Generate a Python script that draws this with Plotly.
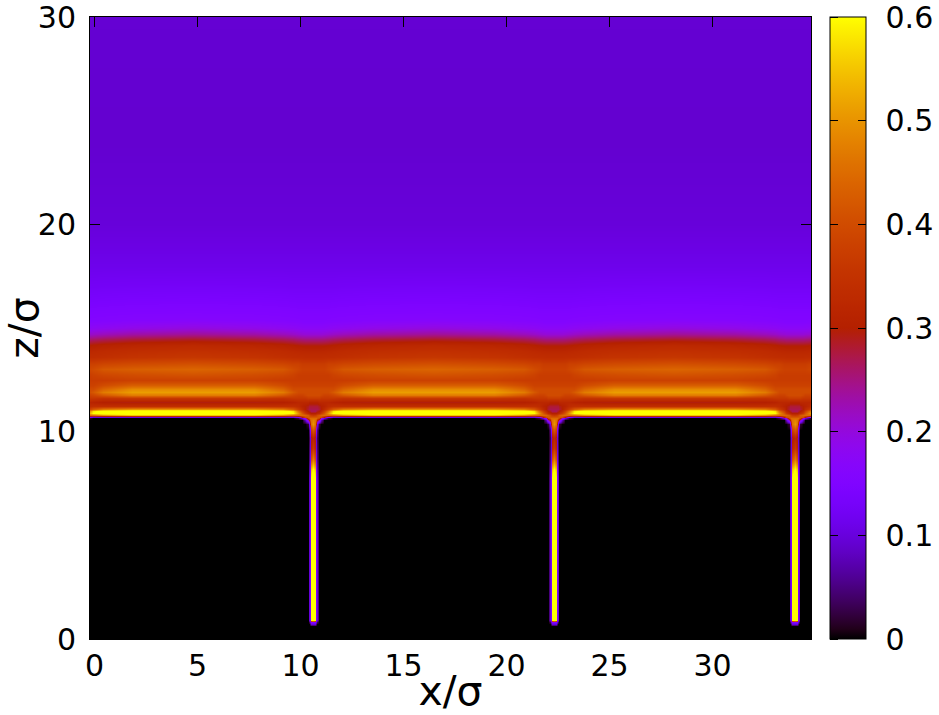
import math
import plotly.graph_objects as go

x_ticks = [0, 5, 10, 15, 20, 25, 30]
z_ticks = [0, 10, 20, 30]
cbar_ticks = [0, 0.1, 0.2, 0.3, 0.4, 0.5, 0.6]
cbar_labels = ["0", "0.1", "0.2", "0.3", "0.4", "0.5", "0.6"]

channel_centers = [-1.06, 10.62, 22.30, 33.98]
# distance from a channel axis (in sigma) at which each table column was read
column_offsets = [0, 0.10, 0.15, 0.20, 0.27, 0.39, 0.53, 0.73, 0.97, 1.45, 2.90, 5.84]

z_levels = [
    0, 0.62, 0.72, 0.80, 0.90, 7.6, 8.2, 8.65, 9.2, 9.7, 10.1, 10.35, 10.55, 10.66, 10.73,
    10.80, 10.90, 11.00, 11.09, 11.22, 11.44, 11.62, 11.78, 11.92, 12.08, 12.25, 12.5,
    12.75, 13.0, 13.25, 13.6, 13.9, 14.2, 14.45, 14.7, 15.0, 15.4, 15.8, 16.2, 17.0, 18.0,
    20.0, 24.0, 30.0,
]

density_table = [
    [0, 0, 0, 0, 0, 0, 0, 0, 0, 0, 0, 0],
    [0, 0, 0, 0, 0, 0, 0, 0, 0, 0, 0, 0],
    [.10, .10, .04, 0, 0, 0, 0, 0, 0, 0, 0, 0],
    [.16, .15, .10, .03, 0, 0, 0, 0, 0, 0, 0, 0],
    [.70, .62, .14, .10, 0, 0, 0, 0, 0, 0, 0, 0],
    [.70, .62, .14, .09, 0, 0, 0, 0, 0, 0, 0, 0],
    [.60, .55, .14, .07, 0, 0, 0, 0, 0, 0, 0, 0],
    [.48, .42, .12, .05, 0, 0, 0, 0, 0, 0, 0, 0],
    [.36, .32, .10, .04, 0, 0, 0, 0, 0, 0, 0, 0],
    [.32, .29, .10, .03, 0, 0, 0, 0, 0, 0, 0, 0],
    [.42, .38, .15, .05, 0, 0, 0, 0, 0, 0, 0, 0],
    [.50, .46, .30, .12, .02, 0, 0, 0, 0, 0, 0, 0],
    [.48, .46, .42, .30, .22, .08, 0, 0, 0, 0, 0, 0],
    [.45, .45, .45, .42, .38, .20, .10, .02, 0, 0, 0, 0],
    [.42, .42, .42, .42, .42, .40, .30, .15, .10, .10, .10, .10],
    [.36, .37, .38, .40, .42, .44, .45, .45, .46, .50, .55, .55],
    [.30, .30, .31, .32, .33, .37, .42, .50, .60, .65, .66, .66],
    [.27, .27, .28, .29, .30, .33, .38, .46, .58, .64, .66, .66],
    [.27, .27, .27, .27, .28, .30, .33, .37, .42, .47, .50, .50],
    [.28, .28, .28, .28, .29, .30, .31, .33, .34, .34, .34, .34],
    [.31, .31, .31, .31, .32, .32, .32, .32, .31, .30, .295, .295],
    [.37, .37, .37, .37, .37, .36, .36, .36, .36, .35, .36, .36],
    [.40, .40, .40, .40, .40, .39, .38, .38, .39, .42, .47, .47],
    [.40, .40, .40, .40, .40, .40, .40, .40, .42, .47, .51, .51],
    [.40, .40, .40, .40, .40, .40, .40, .40, .40, .44, .49, .49],
    [.38, .38, .38, .38, .38, .38, .38, .38, .38, .40, .43, .43],
    [.37, .37, .37, .37, .37, .37, .37, .37, .37, .37, .38, .38],
    [.37, .37, .37, .37, .37, .37, .37, .37, .38, .39, .40, .41],
    [.38, .38, .38, .38, .38, .38, .38, .39, .40, .42, .43, .44],
    [.37, .37, .37, .37, .37, .37, .37, .38, .38, .39, .40, .41],
    [.335, .335, .335, .335, .335, .335, .336, .337, .338, .342, .352, .36],
    [.32, .32, .32, .32, .32, .32, .321, .323, .325, .33, .338, .345],
    [.295, .295, .295, .295, .295, .295, .296, .298, .302, .308, .317, .325],
    [.25, .25, .25, .25, .25, .25, .252, .255, .26, .266, .277, .285],
    [.205, .205, .205, .205, .205, .205, .207, .21, .215, .221, .232, .24],
    [.175, .175, .175, .175, .175, .175, .176, .178, .181, .184, .192, .20],
    [.155, .155, .155, .155, .155, .155, .155, .156, .157, .158, .162, .165],
    [.148, .148, .148, .148, .148, .148, .148, .148, .149, .15, .151, .152],
    [.14, .14, .14, .14, .14, .14, .14, .14, .141, .142, .144, .145],
    [.125, .125, .125, .125, .125, .125, .125, .125, .125, .126, .127, .128],
    [.112, .112, .112, .112, .112, .112, .112, .112, .112, .112, .112, .112],
    [.098, .098, .098, .098, .098, .098, .098, .098, .098, .098, .098, .098],
    [.091, .091, .091, .091, .091, .091, .091, .091, .091, .091, .091, .091],
    [.093, .093, .093, .093, .093, .093, .093, .093, .093, .093, .093, .093],
]

# Lay the columns read over one half period out around each channel
x_nodes, column_ids = [], []
last = len(column_offsets) - 1
for n, centre in enumerate(channel_centers):
    for j in range(last, 0, -1):
        x_nodes.append(centre - column_offsets[j])
        column_ids.append(j)
    stop = last + 1 if n == len(channel_centers) - 1 else last
    for j in range(0, stop):
        x_nodes.append(centre + column_offsets[j])
        column_ids.append(j)
density = [[row[j] for j in column_ids] for row in density_table]


def gnuplot_palette(steps=64):
    # gnuplot rgbformulae 7,5,15 ("pm3d" default)
    stops = []
    for i in range(steps + 1):
        t = i / steps
        r = math.sqrt(t)
        g = t ** 3
        b = max(0.0, math.sin(2 * math.pi * t))
        stops.append([t, f"rgb({round(255*r)},{round(255*g)},{round(255*b)})"])
    return stops


FONT = "DejaVu Sans"
L, R, T, B = 90, 811, 17, 639
W, H = 939, 715
PW = R - L
BAR_LEFT, BAR_THICK = 830, 36
LABEL_PAD = "\u00a0\u200a"

fig = go.Figure()
fig.add_trace(go.Heatmap(
    x=x_nodes, y=z_levels, z=density, zmin=0, zmax=0.6, zsmooth="best",
    colorscale=gnuplot_palette(), hoverinfo="skip",
    colorbar=dict(
        x=(BAR_LEFT - L) / PW, xanchor="left", xpad=0, ypad=0, y=0, yanchor="bottom",
        len=1, lenmode="fraction", thickness=BAR_THICK, thicknessmode="pixels",
        outlinecolor="black", outlinewidth=1, borderwidth=0,
        tickmode="array", tickvals=cbar_ticks,
        ticktext=[LABEL_PAD + s for s in cbar_labels],
        ticks="inside", ticklen=8, tickwidth=1, tickcolor="black",
        ticklabeloverflow="allow",
        tickfont=dict(family=FONT, size=30, color="black"),
    ),
))
# Transparent companion scale: only supplies the matching tick marks on the bar's left edge
fig.add_trace(go.Scatter(
    x=[None], y=[None], mode="markers", showlegend=False, hoverinfo="skip",
    marker=dict(
        color=[0], cmin=0, cmax=0.6, showscale=True,
        colorscale=[[0, "rgba(0,0,0,0)"], [1, "rgba(0,0,0,0)"]],
        colorbar=dict(
            x=(BAR_LEFT - L - 2) / PW, xanchor="left", xpad=0, ypad=0, y=0, yanchor="bottom",
            len=1, lenmode="fraction", thickness=2, thicknessmode="pixels",
            outlinewidth=0, borderwidth=0,
            tickmode="array", tickvals=cbar_ticks, showticklabels=False,
            ticks="outside", ticklen=8, tickwidth=1, tickcolor="black",
        ),
    ),
))

axis_common = dict(
    showgrid=False, zeroline=False, showline=True, linecolor="black", linewidth=1,
    mirror="ticks", ticks="inside", ticklen=10, tickwidth=1, tickcolor="black",
    ticklabeloverflow="allow",
    tickfont=dict(family=FONT, size=30, color="black"),
)
fig.update_layout(
    width=W, height=H, paper_bgcolor="white", plot_bgcolor="black",
    margin=dict(l=L, r=W - R, t=T, b=H - B, autoexpand=False),
    showlegend=False,
    xaxis=dict(
        axis_common, range=[-0.22, 34.78], tickmode="array", tickvals=x_ticks,
        ticklabelstandoff=0,
        title=dict(text="x/\u03c3", font=dict(family=FONT, size=41, color="black"), standoff=0),
    ),
    yaxis=dict(
        axis_common, range=[0, 30], tickmode="array", tickvals=z_ticks,
        ticklabelstandoff=7,
        title=dict(text="z/\u03c3", font=dict(family=FONT, size=41, color="black"), standoff=15),
    ),
)
fig.write_html("out.html", config={"displayModeBar": False},
               post_script="document.body.style.margin='0';")
